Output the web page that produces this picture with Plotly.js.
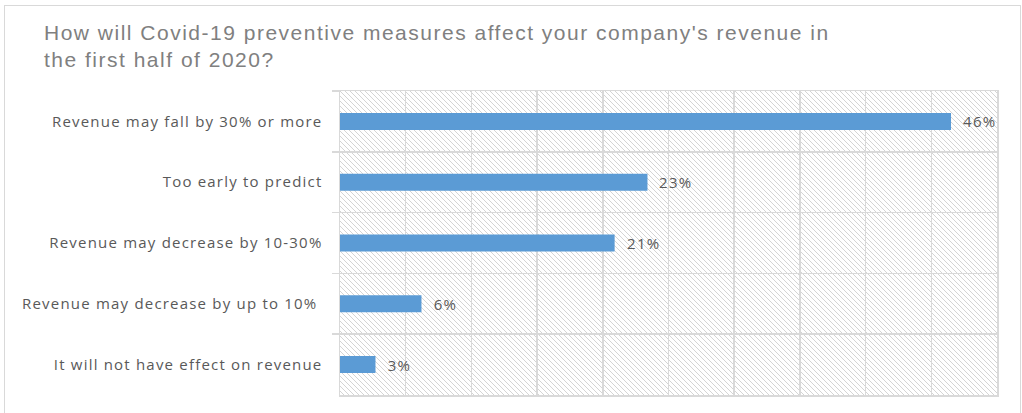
<!DOCTYPE html>
<html>
<head>
<meta charset="utf-8">
<script src="https://cdn.plot.ly/plotly-3.0.1.min.js"></script>
<style>
  html, body { margin: 0; padding: 0; background: #ffffff; overflow: hidden; }
  #wrap { position: relative; width: 1022px; height: 413px; }
  #hatch { position: absolute; left: 340px; top: 91px; width: 657px; height: 304px;
    background-color: #ffffff;
    background-image: url("data:image/svg+xml;utf8,<svg xmlns='http://www.w3.org/2000/svg' width='5' height='5' shape-rendering='crispEdges'><rect x='0' y='0' width='1' height='1' fill='%23d4d4d4'/><rect x='1' y='1' width='1' height='1' fill='%23d4d4d4'/><rect x='2' y='2' width='1' height='1' fill='%23d4d4d4'/><rect x='3' y='3' width='1' height='1' fill='%23d4d4d4'/><rect x='4' y='4' width='1' height='1' fill='%23d4d4d4'/></svg>");
    background-size: 5px 5px; background-repeat: repeat; image-rendering: pixelated; }
  #chart { position: absolute; left: 0; top: 0; width: 1022px; height: 413px; }
  #frame { position: absolute; left: 4px; top: 5px; width: 1017px; height: 430px;
    border: 1px solid #d9d9d9; box-sizing: border-box; pointer-events: none; }
  #chart .gtitle { letter-spacing: 1.5px; }
  #chart .ytick text { letter-spacing: 1.2px; }
  #chart .annotation-text { letter-spacing: 1.3px; }
</style>
</head>
<body>
<div id="wrap">
  <div id="hatch"></div>
  <div id="chart"></div>
  <div id="frame"></div>
</div>
<script>
const titleText = "How will Covid-19 preventive measures affect your company's revenue in<br>the first half of 2020?";
const categories = [
  "Revenue may fall by 30% or more",
  "Too early to predict",
  "Revenue may decrease by 10-30%",
  "Revenue may decrease by up to 10%\u00a0",
  "It will not have effect on revenue"
];
const values = [46.5, 23.4, 20.9, 6.2, 2.7];
const valueLabels = ["46%", "23%", "21%", "6%", "3%"];

const grid = '#d9d9d9';
const textGray = '#595959';

const trace = {
  type: 'bar',
  orientation: 'h',
  x: values,
  y: categories,
  width: 0.28,
  marker: { color: '#5B9BD5' },
  hoverinfo: 'skip'
};

const annotations = categories.map((c, i) => ({
  x: values[i], y: c, xref: 'x', yref: 'y',
  text: valueLabels[i], showarrow: false,
  xanchor: 'left', yanchor: 'middle', xshift: 12,
  font: { family: 'Open Sans', size: 15, color: textGray }
}));

const layout = {
  width: 1022, height: 413,
  margin: { l: 340, r: 25, t: 91, b: 18 },
  paper_bgcolor: 'rgba(0,0,0,0)',
  plot_bgcolor: 'rgba(0,0,0,0)',
  showlegend: false,
  title: {
    text: titleText,
    x: 44 / 1022, xref: 'container', xanchor: 'left',
    y: 1 - 40 / 413, yref: 'container', yanchor: 'top',
    font: { family: 'Liberation Sans', size: 21, color: '#808080' }
  },
  xaxis: {
    range: [0, 50], dtick: 5, tick0: 0,
    showgrid: true, gridcolor: grid, gridwidth: 1.5,
    showticklabels: false, ticks: '',
    showline: true, mirror: true, linecolor: grid, linewidth: 1.5,
    zeroline: false, fixedrange: true
  },
  yaxis: {
    type: 'category', autorange: 'reversed',
    tickson: 'boundaries', ticks: 'outside', ticklen: 7, tickcolor: grid, tickwidth: 1.5,
    showgrid: true, gridcolor: grid, gridwidth: 1.5,
    showline: true, mirror: true, linecolor: grid, linewidth: 1.5,
    ticklabelstandoff: 13,
    tickfont: { family: 'Open Sans', size: 15, color: textGray },
    fixedrange: true
  },
  annotations: annotations
};

Plotly.newPlot('chart', [trace], layout, { displayModeBar: false, staticPlot: true });
</script>
</body>
</html>
